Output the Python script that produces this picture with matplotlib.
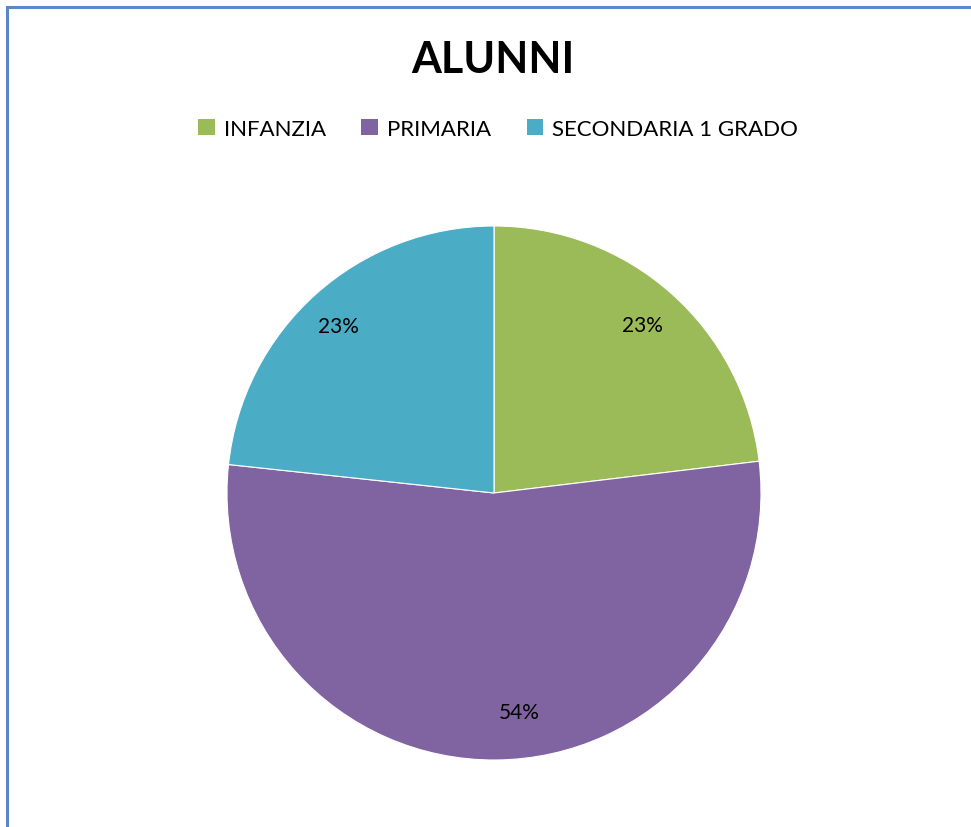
import matplotlib.pyplot as plt
from matplotlib.patches import Patch
from matplotlib.lines import Line2D

plt.rcParams['font.family'] = ['Lato', 'DejaVu Sans']

labels = ['INFANZIA', 'PRIMARIA', 'SECONDARIA 1 GRADO']
values = [23.1, 53.6, 23.3]
colors = ['#9BBB59', '#8064A2', '#4BACC6']

fig = plt.figure(figsize=(9.71, 8.28), dpi=100)

# blue frame (cut off on the right and bottom like the original)
fig.add_artist(Line2D([7 / 971, 7 / 971], [0, 1 - 8 / 828], color='#5B87C8', lw=2.2))
fig.add_artist(Line2D([7 / 971, 1], [1 - 8 / 828, 1 - 8 / 828], color='#5B87C8', lw=2.2))

cx, cy, r = 494, 494, 267
ax = fig.add_axes([(cx - r) / 971, (828 - cy - r) / 828, 2 * r / 971, 2 * r / 828])
wedges, texts, autotexts = ax.pie(values, colors=colors, startangle=90, counterclock=False,
                                  autopct='%1.0f%%', pctdistance=0.84,
                                  wedgeprops=dict(edgecolor='white', linewidth=0.8),
                                  textprops=dict(fontsize=15, color='black'))
# excel puts the big slice label a bit off its middle
x, y = autotexts[1].get_position()
autotexts[1].set_position((x + 0.09, y + 0.02))
x, y = autotexts[2].get_position()
autotexts[2].set_position((x - 0.02, y))
ax.set_xlim(-1, 1)
ax.set_ylim(-1, 1)
ax.set_aspect('equal')

fig.text(493 / 971, 1 - 60 / 828, 'ALUNNI', ha='center', va='center',
         fontsize=31, fontweight='bold')

handles = [Patch(facecolor=c, edgecolor='none') for c in colors]
fig.legend(handles, labels, loc='center', bbox_to_anchor=(498 / 971, 1 - 130 / 828),
           ncol=3, frameon=False, fontsize=16, handlelength=0.75, handleheight=0.75,
           handletextpad=0.4, columnspacing=1.6)

fig.savefig('out.png', dpi=100)
